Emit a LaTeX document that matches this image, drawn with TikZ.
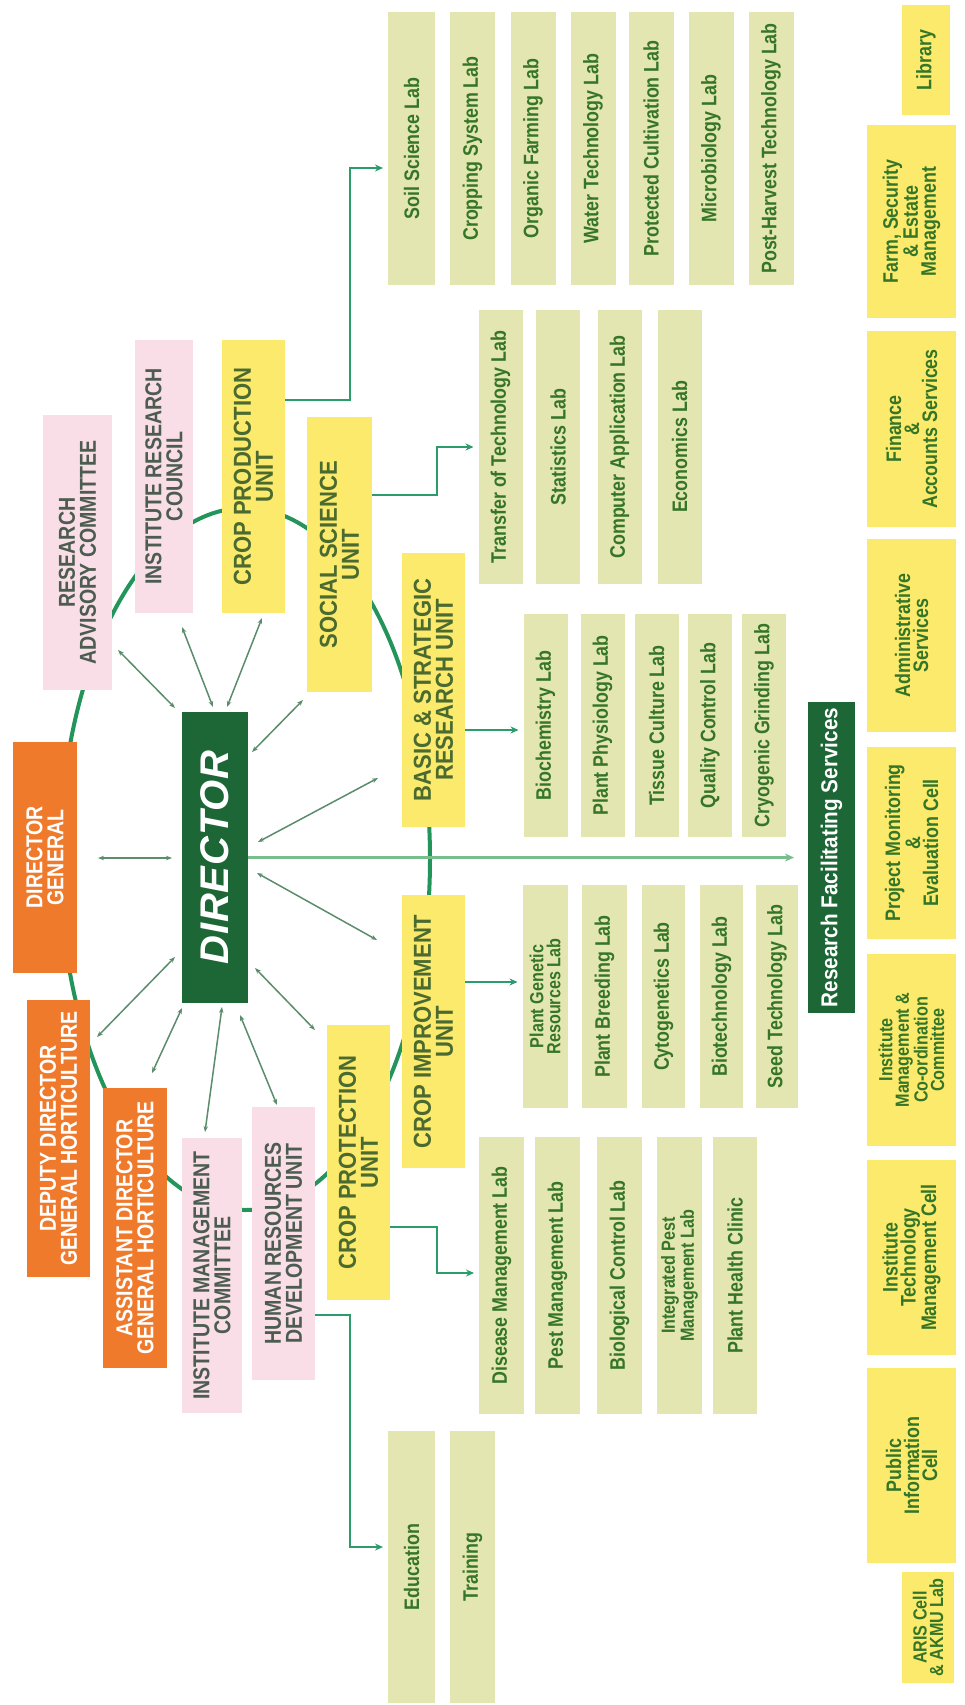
\documentclass[tikz,border=0pt]{standalone}
\usepackage{fontspec}
\usetikzlibrary{calc,arrows.meta}
\newfontfamily\nf[FakeStretch=0.85]{Liberation Sans}
\newfontfamily\nfw[FakeStretch=0.9]{Liberation Sans}
\newfontfamily\dirf[LetterSpace=2]{Liberation Sans}
\definecolor{oraC}{HTML}{F07A2C}
\definecolor{dkG}{HTML}{1D6636}
\definecolor{yelC}{HTML}{FBEA6C}
\definecolor{labC}{HTML}{E4E6B2}
\definecolor{pinkC}{HTML}{F9DEE8}
\definecolor{labT}{HTML}{357528}
\definecolor{unitT}{HTML}{4A6A30}
\definecolor{pinkT}{HTML}{4C5C50}
\definecolor{ringC}{HTML}{23955A}
\definecolor{spokeC}{HTML}{5B8C6C}
\definecolor{elbC}{HTML}{2A9D6A}
\definecolor{rfsL}{HTML}{78BE8C}
\begin{document}
\begin{tikzpicture}[x=1pt,y=-1pt,
  base/.style={rotate=90, inner sep=1pt, outer sep=0pt, align=center},
  sz/.style 2 args={minimum height=#1pt, minimum width=#2pt},
  lab/.style={base, fill=labC, text=labT, font=\nf\bfseries\fontsize{21}{19}\selectfont},
  labtwo/.style={lab, font=\nf\bfseries\fontsize{19}{17}\selectfont},
  unit/.style={base, fill=yelC, text=unitT, font=\nfw\bfseries\fontsize{24.5}{22}\selectfont},
  pinkbox/.style={base, fill=pinkC, text=pinkT, font=\nf\bfseries\fontsize{23}{21}\selectfont},
  orabox/.style={base, fill=oraC, text=white, font=\nf\bfseries\fontsize{23}{21}\selectfont},
  svc/.style={base, fill=yelC, text=labT, font=\nf\bfseries\fontsize{21}{18}\selectfont},
  svcsmall/.style={svc, font=\nf\bfseries\fontsize{19}{16.5}\selectfont},
  ring/.style={draw=ringC, line width=4pt},
  spoke/.style={draw=spokeC, line width=1.5pt, arrows={Stealth[length=6pt,width=4.5pt]-Stealth[length=6pt,width=4.5pt]}},
  elbow/.style={draw=elbC, line width=2.2pt, arrows={-Stealth[length=8pt,width=7pt]}, shorten >=5pt},
  rfsline/.style={draw=rfsL, line width=2.6pt, arrows={-Stealth[length=9pt,width=8pt]}, shorten >=14pt},
]
\useasboundingbox (0,0) rectangle (964,1705);
\fill[white] (0,0) rectangle (964,1705);

% ring behind the central nodes
\draw[ring] (245,859) ellipse [x radius=185pt, y radius=351pt];

% central nodes
\node[orabox, sz={64}{231}] (dg) at (45,857.5) {DIRECTOR\\GENERAL};
\node[orabox, sz={63}{277}] (ddg) at (58.5,1138.5) {DEPUTY DIRECTOR\\GENERAL HORTICULTURE};
\node[orabox, sz={64}{280}] (adg) at (135,1228) {ASSISTANT DIRECTOR\\GENERAL HORTICULTURE};
\node[pinkbox, sz={69}{275}] (rac) at (77.5,552.5) {RESEARCH\\ADVISORY COMMITTEE};
\node[pinkbox, sz={58}{273}] (irc) at (164,476.5) {INSTITUTE RESEARCH\\COUNCIL};
\node[unit, sz={63}{273}] (cpu) at (253.5,476.5) {CROP PRODUCTION\\UNIT};
\node[unit, sz={65}{275}] (ssu) at (339.5,554.5) {SOCIAL SCIENCE\\UNIT};
\node[unit, sz={63}{274}] (bsru) at (433.5,690) {BASIC \& STRATEGIC\\RESEARCH UNIT};
\node[unit, sz={63}{273}] (ciu) at (433.5,1031.5) {CROP IMPROVEMENT\\UNIT};
\node[unit, sz={63}{275}] (cprot) at (358.5,1162.5) {CROP PROTECTION\\UNIT};
\node[pinkbox, sz={60}{275}] (imc) at (212,1275.5) {INSTITUTE MANAGEMENT\\COMMITTEE};
\node[pinkbox, sz={63}{273}] (hrd) at (283.5,1243.5) {HUMAN RESOURCES\\DEVELOPMENT UNIT};
\node[base, fill=dkG, text=white, sz={66}{291}, font=\dirf\bfseries\itshape\fontsize{40}{40}\selectfont] (dir) at (215,857.5) {DIRECTOR};

% crop production labs
\node[lab, sz={47}{273}] (soil) at (411.5,148.5) {Soil Science Lab};
\node[lab, sz={45}{273}] (crops) at (472.5,148.5) {Cropping System Lab};
\node[lab, sz={45}{273}] (organic) at (533,148.5) {Organic Farming Lab};
\node[lab, sz={45}{273}] (water) at (593,148.5) {Water Technology Lab};
\node[lab, sz={45}{273}] (protected) at (651,148.5) {Protected Cultivation Lab};
\node[lab, sz={45}{273}] (micro) at (711,148.5) {Microbiology Lab};
\node[lab, sz={45}{273}] (postharv) at (771,148.5) {Post-Harvest Technology Lab};

% social science labs
\node[lab, sz={44}{274}] (transfer) at (500.5,447) {Transfer of Technology Lab};
\node[lab, sz={44}{274}] (stat) at (558,447) {Statistics Lab};
\node[lab, sz={44}{274}] (comp) at (619.5,447) {Computer Application Lab};
\node[lab, sz={44}{274}] (econ) at (679.5,447) {Economics Lab};

% basic & strategic labs
\node[lab, sz={44}{223}] (biochem) at (545.5,725.5) {Biochemistry Lab};
\node[lab, sz={44}{223}] (physio) at (602.5,725.5) {Plant Physiology Lab};
\node[lab, sz={44}{223}] (tissue) at (656.5,725.5) {Tissue Culture Lab};
\node[lab, sz={44}{223}] (quality) at (710,725.5) {Quality Control Lab};
\node[lab, sz={44}{223}] (cryo) at (764,725.5) {Cryogenic Grinding Lab};

% crop improvement labs
\node[labtwo, sz={45}{223}] (pgr) at (545,996.5) {Plant Genetic\\Resources Lab};
\node[lab, sz={45}{223}] (breed) at (604.5,996.5) {Plant Breeding Lab};
\node[lab, sz={43}{223}] (cyto) at (663.5,996.5) {Cytogenetics Lab};
\node[lab, sz={43}{223}] (biotech) at (721.5,996.5) {Biotechnology Lab};
\node[lab, sz={42}{223}] (seed) at (777,996.5) {Seed Technology Lab};

% crop protection labs
\node[lab, sz={45}{277}] (disease) at (501.5,1275.5) {Disease Management Lab};
\node[lab, sz={45}{277}] (pest) at (557.5,1275.5) {Pest Management Lab};
\node[lab, sz={45}{277}] (bioctrl) at (619.5,1275.5) {Biological Control Lab};
\node[labtwo, sz={45}{277}] (ipm) at (679.5,1275.5) {Integrated Pest\\Management Lab};
\node[lab, sz={44}{277}] (phc) at (735,1275.5) {Plant Health Clinic};

% HRD
\node[lab, sz={47}{272}] (edu) at (411.5,1567) {Education};
\node[lab, sz={45}{272}] (train) at (472.5,1567) {Training};

% research facilitating services
\node[base, fill=dkG, text=white, sz={47}{311}, font=\nfw\bfseries\fontsize{23}{20}\selectfont] (rfs) at (831.5,857.5) {Research Facilitating Services};
\node[svc, sz={48}{110}] (lib) at (926,60) {Library};
\node[svc, sz={89}{193}] (farm) at (911.5,221.5) {Farm, Security\\\& Estate\\Management};
\node[svc, sz={89}{196}] (fin) at (911.5,429) {Finance\\\&\\Accounts Services};
\node[svc, sz={89}{193}] (admin) at (911.5,635.5) {Administrative\\Services};
\node[svc, sz={89}{192}] (pme) at (911.5,843) {Project Monitoring\\\&\\Evaluation Cell};
\node[svcsmall, sz={89}{192}] (imcc) at (911.5,1050) {Institute\\Management \&\\Co-ordination\\Committee};
\node[svc, sz={89}{195}] (itmc) at (911.5,1257.5) {Institute\\Technology\\Management Cell};
\node[svc, sz={89}{195}] (pic) at (911.5,1465.5) {Public\\Information\\Cell};
\node[svcsmall, sz={52}{111}] (aris) at (928,1627.5) {ARIS Cell\\\& AKMU Lab};

% spokes around the director
\draw[spoke] ($(dir.center)+(-40,-149.5)$) -- ($(rac.center)+(40.5,97.5)$);
\draw[spoke] ($(dir.center)+(-2,-150.5)$) -- ($(irc.center)+(18,150.5)$);
\draw[spoke] ($(dir.center)+(12,-150.5)$) -- ($(cpu.center)+(8.5,141.5)$);
\draw[spoke] ($(dir.center)+(37,-105.5)$) -- ($(ssu.center)+(-36.5,145.5)$);
\draw[spoke] ($(dir.center)+(43,-15.5)$) -- ($(bsru.center)+(-55.5,88)$);
\draw[spoke] ($(dir.center)+(42,15.5)$) -- ($(ciu.center)+(-56.5,-91.5)$);
\draw[spoke] ($(dir.center)+(40,110.5)$) -- ($(cprot.center)+(-43.5,-132.5)$);
\draw[spoke] ($(dir.center)+(25,157.5)$) -- ($(hrd.center)+(-6.5,-138.5)$);
\draw[spoke] ($(dir.center)+(7,149.5)$) -- ($(imc.center)+(-7,-143.5)$);
\draw[spoke] ($(dir.center)+(-33,150.5)$) -- ($(adg.center)+(17,-155)$);
\draw[spoke] ($(dir.center)+(-40,99.5)$) -- ($(ddg.center)+(38.5,-101.5)$);
\draw[spoke] ($(dir.center)+(-43,0.5)$) -- ($(dg.center)+(53,0.5)$);

% director to research facilitating services
\draw[rfsline] (dir) -- (rfs);

% unit to lab connectors
\draw[elbow] ($(cpu.south)+(0,-76.5)$) -- ++(65,0) |- ($(soil.north)+(0,19.5)$);
\draw[elbow] ($(ssu.south)+(0,-59.5)$) -- ++(65,0) |- (transfer.north);
\draw[elbow] ($(bsru.south)+(0,40)$) -- ($(biochem.north)+(0,4.5)$);
\draw[elbow] ($(ciu.south)+(0,-49.5)$) -- ($(pgr.north)+(0,-14.5)$);
\draw[elbow] ($(cprot.south)+(0,64.5)$) -- ++(47,0) |- ($(disease.north)+(0,-2.5)$);
\draw[elbow] ($(hrd.south)+(0,71.5)$) -- ++(35,0) |- ($(edu.north)+(0,-20)$);
\end{tikzpicture}
\end{document}
